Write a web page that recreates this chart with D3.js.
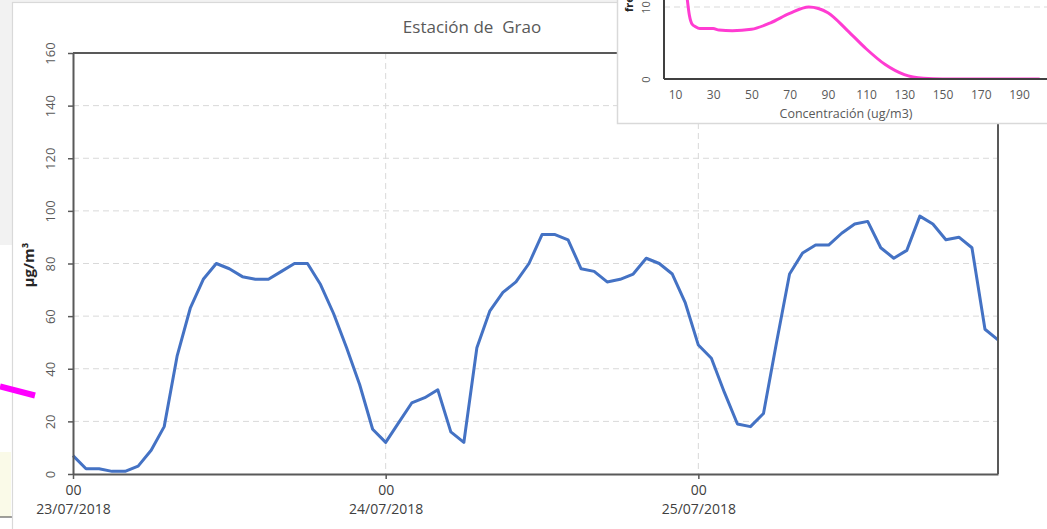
<!DOCTYPE html>
<html><head><meta charset="utf-8">
<script src="https://cdn.jsdelivr.net/npm/d3@7"></script>
<style>
body{margin:0;background:#fff;overflow:hidden}
text{font-family:"Open Sans",sans-serif}
</style>
</head><body>
<svg id="c" width="1047" height="529"></svg>
<script>
// ---- data (hourly concentrations, µg/m³) ----
const concentration = [7,2,2,1,1,3,9,18,45,63,74,80,78,75,74,74,77,80,80,72,61,48,34,17,
  12,19.5,27,29,32,16,12,48,62,69,73,80,91,91,89,78,77,73,74,76,82,80,76,65,
  49,44,31,19,18,23,50,76,84,87,87,91.5,95,96,86,82,85,98,95,89,90,86,55,51];
const yTicks = [0,20,40,60,80,100,120,140,160];
const dayTickHours = [0,24,48];
const dayTickHourLabels = ["00","00","00"];
const dayTickDates = ["23/07/2018","24/07/2018","25/07/2018"];
const chartTitle = "Estación de  Grao";
const yLabel = "µg/m³";
// inset (frequency distribution)
const densityConc = [14,16,17.5,19,20.5,23,30,33,40,50,60,70,80,85,90,100,110,120,130,140,150,175,200.5];
const densityFreq = [16,12,8.9,7.6,7.3,7.0,7.0,6.8,6.7,6.9,7.8,9.1,10.0,9.8,9.2,6.8,4.2,2.0,0.6,0.1,0,0,0];
const insetXTicks = [10,30,50,70,90,110,130,150,170,190];
const insetYTicks = [0,10];
const insetXLabel = "Concentración (ug/m3)";
const insetYLabel = "frecuencia";

const svg = d3.select("#c");
const dark = "#595959", grid = "#d9d9d9";

// ---- page background fragments ----
svg.append("rect").attr("x",0).attr("y",0).attr("width",1047).attr("height",2).attr("fill","#f2f2f2");
svg.append("rect").attr("x",0).attr("y",0).attr("width",12).attr("height",245).attr("fill","#f2f2f2");
svg.append("rect").attr("x",0).attr("y",452).attr("width",11).attr("height",65).attr("fill","#fafae8");
svg.append("line").attr("x1",0).attr("x2",12).attr("y1",517).attr("y2",517).attr("stroke","#404040").attr("stroke-width",1);
svg.append("rect").attr("x",12.5).attr("y",2.5).attr("width",1200).attr("height",700)
  .attr("fill","#fff").attr("stroke",grid).attr("stroke-width",1.2);

// ---- main chart ----
const L=73, R=998, T=53, B=474;
const hours = concentration.map((v,i)=>i);
const x = d3.scaleLinear().domain([0, hours.length-1]).range([L,R]);
const y = d3.scaleLinear().domain([0,160]).range([B,T]);

svg.append("text").attr("x",472).attr("y",33).attr("text-anchor","middle")
  .attr("fill",dark).style("font-size","17px").style("white-space","pre").text(chartTitle);

// gridlines
svg.append("g").selectAll("line").data(yTicks.filter(d=>d>0 && d<160)).join("line")
  .attr("x1",L).attr("x2",R).attr("y1",d=>y(d)).attr("y2",d=>y(d))
  .attr("stroke",grid).attr("stroke-width",1).attr("stroke-dasharray","6,4");
svg.append("g").selectAll("line").data(dayTickHours.filter(d=>d>0)).join("line")
  .attr("x1",d=>x(d)).attr("x2",d=>x(d)).attr("y1",T).attr("y2",B)
  .attr("stroke",grid).attr("stroke-width",1).attr("stroke-dasharray","6,4");

// line
svg.append("path").datum(concentration)
  .attr("d", d3.line().x((d,i)=>x(i)).y(d=>y(d)))
  .attr("fill","none").attr("stroke","#4472c4").attr("stroke-width",3).attr("stroke-linejoin","round");

// border top/right
svg.append("line").attr("x1",L).attr("x2",R).attr("y1",T).attr("y2",T).attr("stroke",dark).attr("stroke-width",2);
svg.append("line").attr("x1",R).attr("x2",R).attr("y1",T).attr("y2",B).attr("stroke",dark).attr("stroke-width",2);

// y axis
const gy = svg.append("g").attr("transform",`translate(${L},0)`)
  .call(d3.axisLeft(y).tickValues(yTicks).tickSize(5).tickSizeOuter(0));
gy.select(".domain").attr("stroke",dark).attr("stroke-width",2);
gy.selectAll(".tick line").attr("stroke",dark).attr("stroke-width",1.5);
gy.selectAll(".tick text").attr("x",0).attr("y",-18).attr("dy",null)
  .attr("text-anchor","middle").attr("transform","rotate(-90)")
  .attr("fill",dark).style("font-size","13px").style("font-family","\"Open Sans\",sans-serif");

// x axis
const gx = svg.append("g").attr("transform",`translate(0,${B})`)
  .call(d3.axisBottom(x).tickValues(dayTickHours).tickSize(5).tickSizeOuter(0).tickFormat(""));
gx.select(".domain").attr("stroke",dark).attr("stroke-width",2);
gx.selectAll(".tick line").attr("stroke",dark).attr("stroke-width",1.5);
gx.selectAll(".tick").each(function(d,i){
  const g = d3.select(this);
  g.append("text").attr("y",21).attr("text-anchor","middle").attr("fill","#404040")
    .style("font-size","14px").text(dayTickHourLabels[i]);
  g.append("text").attr("y",40).attr("text-anchor","middle").attr("fill","#404040")
    .style("font-size","14px").text(dayTickDates[i]);
});

// y label
svg.append("text").attr("transform","translate(34,265) rotate(-90)").attr("text-anchor","middle")
  .attr("fill","#262626").style("font-size","15px").style("font-weight","bold").text(yLabel);

// ---- inset chart ----
const iL=664, iR=1047, iB=79;
const ix = d3.scaleLinear().domain([10,190]).range([675,1019]);
const iy = d3.scaleLinear().domain([0,10]).range([iB,7]);
const ins = svg.append("g");
ins.append("rect").attr("x",617.5).attr("y",-10).attr("width",500).attr("height",133.5)
  .attr("fill","#fff").attr("stroke",grid).attr("stroke-width",1.5);
ins.append("g").selectAll("line").data(insetYTicks.filter(d=>d>0)).join("line")
  .attr("x1",iL).attr("x2",iR).attr("y1",d=>iy(d)).attr("y2",d=>iy(d))
  .attr("stroke",grid).attr("stroke-width",1).attr("stroke-dasharray","6,4");
svg.append("clipPath").attr("id","ic").append("rect").attr("x",iL).attr("y",-20).attr("width",iR-iL).attr("height",iB+20);
ins.append("path").datum(densityConc.map((c,i)=>[c,densityFreq[i]]))
  .attr("clip-path","url(#ic)")
  .attr("d", d3.line().x(d=>ix(d[0])).y(d=>iy(d[1])).curve(d3.curveMonotoneX))
  .attr("fill","none").attr("stroke","#ff3cd2").attr("stroke-width",3).attr("stroke-linecap","round");
ins.append("line").attr("x1",iL).attr("x2",iL).attr("y1",-5).attr("y2",iB).attr("stroke","#404040").attr("stroke-width",2);
ins.append("line").attr("x1",iL).attr("x2",iR).attr("y1",iB).attr("y2",iB).attr("stroke","#404040").attr("stroke-width",2);
const igx = ins.append("g").attr("transform",`translate(0,${iB})`)
  .call(d3.axisBottom(ix).tickValues(insetXTicks).tickSize(0));
igx.select(".domain").remove();
igx.selectAll("text").attr("y",20).attr("dy",null).attr("fill",dark)
  .style("font-size","12px").style("font-family","\"Open Sans\",sans-serif");
const igy = ins.append("g").attr("transform",`translate(${iL},0)`)
  .call(d3.axisLeft(iy).tickValues(insetYTicks).tickSize(0));
igy.select(".domain").remove();
igy.selectAll("text").attr("x",0).attr("y",-14).attr("dy",null).attr("text-anchor","middle")
  .attr("transform","rotate(-90)").attr("fill",dark)
  .style("font-size","11px").style("font-family","\"Open Sans\",sans-serif");
ins.append("text").attr("x",846).attr("y",118).attr("text-anchor","middle").attr("fill",dark)
  .style("font-size","12.5px").text(insetXLabel);
ins.append("text").attr("transform","translate(633,12) rotate(-90)").attr("text-anchor","start")
  .attr("fill","#262626").style("font-size","11px").style("font-weight","bold").text(insetYLabel);

// stray magenta stroke at left edge
svg.append("line").attr("x1",0).attr("y1",386.5).attr("x2",35).attr("y2",395.5)
  .attr("stroke","#ff00ff").attr("stroke-width",6);
</script>
</body></html>
